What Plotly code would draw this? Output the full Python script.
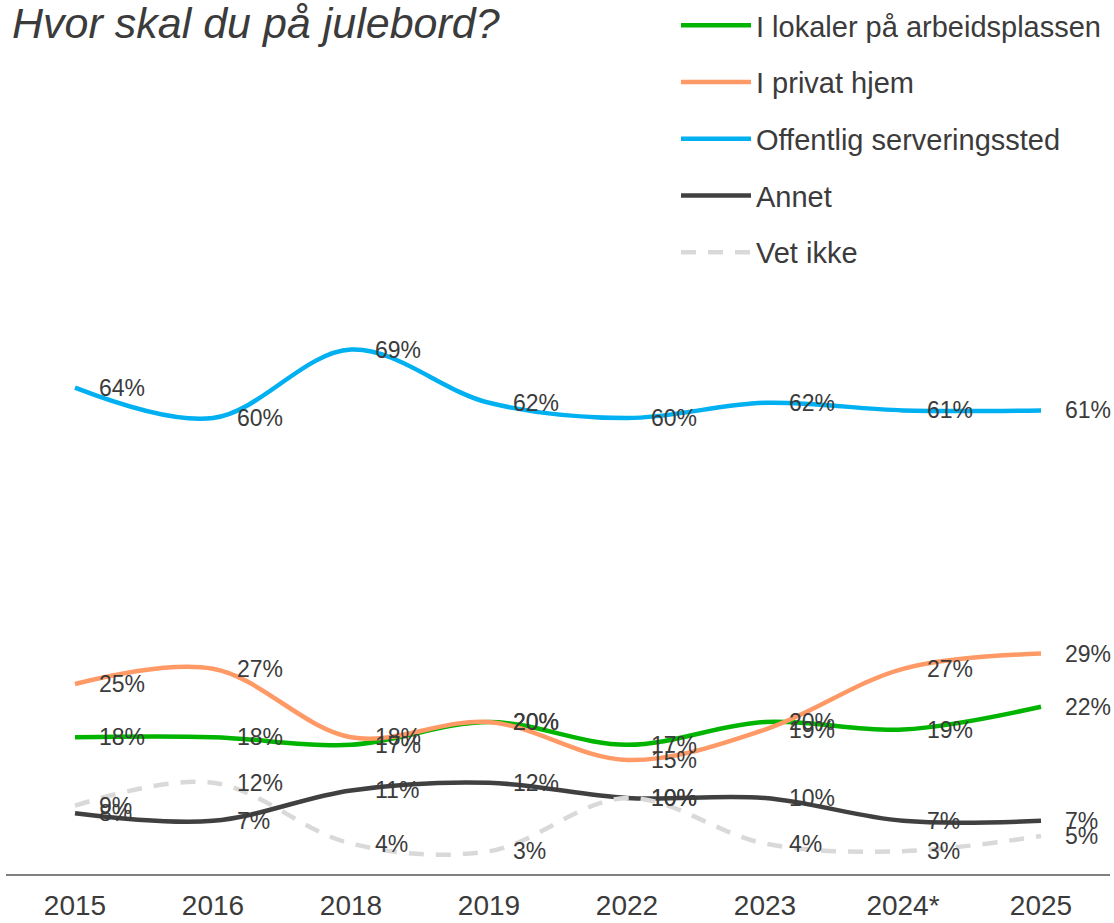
import plotly.graph_objects as go

years = ["2015", "2016", "2018", "2019", "2022", "2023", "2024*", "2025"]
lokaler = [18, 18, 17, 20, 17, 20, 19, 22]
privat = [25, 27, 18, 20, 15, 19, 27, 29]
offentlig = [64, 60, 69, 62, 60, 62, 61, 61]
annet = [8, 7, 11, 12, 10, 10, 7, 7]
vet_ikke = [9, 12, 4, 3, 10, 4, 3, 5]

series_names = ["I lokaler på arbeidsplassen", "I privat hjem", "Offentlig serveringssted", "Annet", "Vet ikke"]
series_values = [lokaler, privat, offentlig, annet, vet_ikke]
colors = ["#00B400", "#FF9966", "#00B0F0", "#404040", "#D9D9D9"]
dashes = ["solid", "solid", "solid", "solid", "15px,12px"]

FONT = "Liberation Sans, Arial, sans-serif"
TXT = "#3B3B3B"

fig = go.Figure()
for i, (name, vals, col, dash) in enumerate(zip(series_names, series_values, colors, dashes)):
    fig.add_trace(go.Scatter(
        x=years, y=vals, name=name, mode="lines",
        line=dict(color=col, width=4.5, shape="spline", smoothing=1.0, dash=dash),
        legendgroup=f"g{i}", hoverinfo="skip",
    ))

annotations = []
for vals in series_values:
    for xi, v in enumerate(vals):
        annotations.append(dict(
            x=xi, y=v, xref="x", yref="y", text=f"{v}%", showarrow=False,
            xanchor="left", yanchor="middle", xshift=22,
            font=dict(family=FONT, size=23, color=TXT),
        ))

fig.update_layout(
    width=1114, height=923,
    margin=dict(l=6, r=4, t=114, b=49, autoexpand=False),
    paper_bgcolor="white", plot_bgcolor="white",
    font=dict(family=FONT, color=TXT),
    title=dict(
        text="<i>Hvor skal du på julebord?</i>",
        font=dict(family=FONT, size=43, color=TXT),
        xref="container", x=12 / 1114, xanchor="left",
        yref="container", y=1 - 8 / 923, yanchor="top", pad=dict(t=0, l=0),
    ),
    xaxis=dict(
        type="category", range=[-0.5, 7.5], showline=True, linecolor="#808080",
        linewidth=1.5, showgrid=False, zeroline=False, ticks="",
        tickfont=dict(family=FONT, size=28, color=TXT), ticklabelstandoff=6,
        fixedrange=True,
    ),
    yaxis=dict(range=[0, 100], visible=False, showgrid=False, zeroline=False, fixedrange=True),
    legend=dict(
        xref="container", yref="container", x=676 / 1114, y=1 + 1 / 923,
        xanchor="left", yanchor="top",
        font=dict(family=FONT, size=29, color=TXT),
        itemwidth=70, tracegroupgap=16, bgcolor="rgba(0,0,0,0)",
    ),
    annotations=annotations,
    showlegend=True,
)

fig.write_html("out.html", config={"displayModeBar": False},
               post_script="document.body.style.margin='0';document.body.style.overflow='hidden';")
